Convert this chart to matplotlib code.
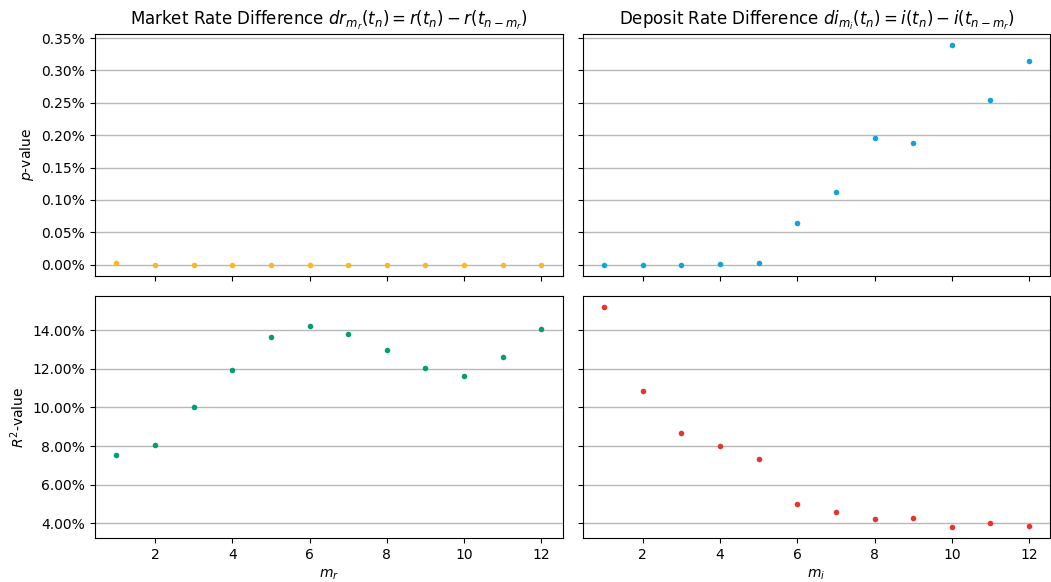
import matplotlib
matplotlib.use("Agg")
import matplotlib.pyplot as plt
from matplotlib.ticker import PercentFormatter

lags = list(range(1, 13))

# p-values of the regressions (fractions)
p_market = [0.00002, 0.0, 0.0, 0.0, 0.0, 0.0, 0.0, 0.0, 0.0, 0.0, 0.0, 0.0]
p_deposit = [0.0, 0.0, 0.0, 0.000015, 0.00003, 0.00065, 0.00113, 0.00196,
             0.00188, 0.00340, 0.00255, 0.00314]

# R^2 values of the regressions (fractions)
r2_market = [0.0753, 0.0805, 0.1000, 0.1191, 0.1364, 0.1421, 0.1379, 0.1296,
             0.1205, 0.1164, 0.1259, 0.1405]
r2_deposit = [0.1519, 0.1086, 0.0870, 0.0800, 0.0733, 0.0502, 0.0460, 0.0422,
              0.0426, 0.0381, 0.0400, 0.0385]

col_market_p = "#fbb726"
col_deposit_p = "#0ea6da"
col_market_r2 = "#009e73"
col_deposit_r2 = "#e5352d"

fig, axes = plt.subplots(2, 2, figsize=(10.51, 5.82), dpi=100,
                         sharex=True, sharey="row")

series = [
    (axes[0, 0], p_market, col_market_p),
    (axes[0, 1], p_deposit, col_deposit_p),
    (axes[1, 0], r2_market, col_market_r2),
    (axes[1, 1], r2_deposit, col_deposit_r2),
]
for ax, vals, c in series:
    ax.scatter(lags, vals, s=16, color=c, zorder=3, linewidths=0)
    ax.grid(axis="y", color="#b8b8b8", linewidth=1)
    ax.set_axisbelow(True)
    ax.yaxis.set_major_formatter(PercentFormatter(xmax=1, decimals=2))

axes[0, 0].set_title(r"Market Rate Difference $dr_{m_r}(t_n) = r(t_n) - r(t_{n-m_r})$", fontsize=12)
axes[0, 1].set_title(r"Deposit Rate Difference $di_{m_i}(t_n) = i(t_n) - i(t_{n-m_r})$", fontsize=12)
axes[0, 0].set_ylabel(r"$p$-value")
axes[1, 0].set_ylabel(r"$R^2$-value")
axes[1, 0].set_xlabel(r"$m_r$")
axes[1, 1].set_xlabel(r"$m_i$")

fig.subplots_adjust(left=0.0904, right=0.9994, top=0.9424, bottom=0.0753,
                    wspace=0.0428, hspace=0.084)
fig.savefig("out.png", dpi=100)
